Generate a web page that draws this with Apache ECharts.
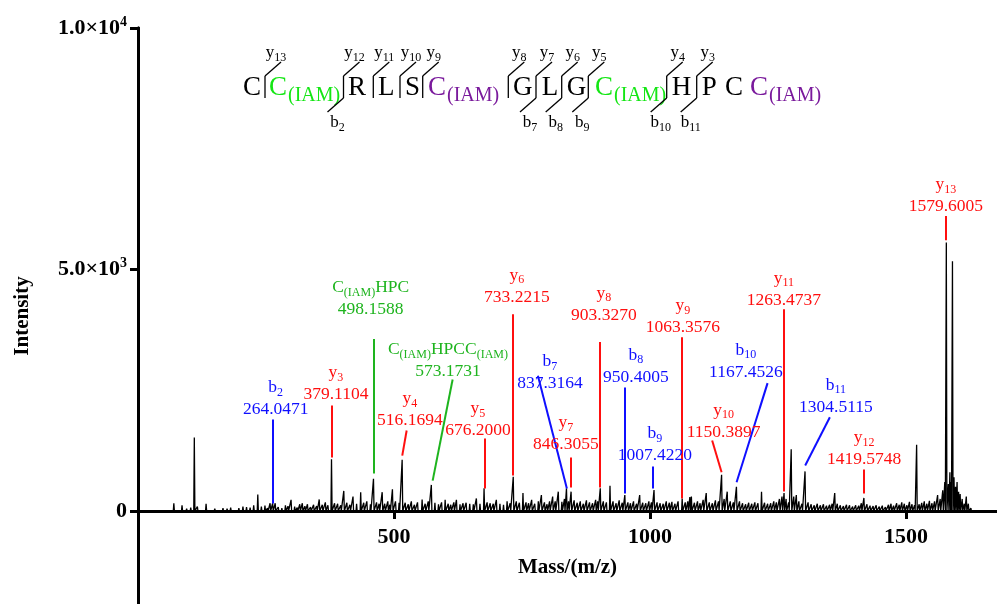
<!DOCTYPE html>
<html><head><meta charset="utf-8">
<script src="https://cdn.jsdelivr.net/npm/echarts@6.0.0/dist/echarts.min.js"></script>
<style>html,body{margin:0;padding:0;background:#fff}#c{width:997px;height:604px}</style>
</head><body><div id="c"></div>
<script>
// ---------- DATA ----------
// spectrum peaks: [m/z, intensity]
const spectrum = [
[62,40],[70,160],[78,40],[86,120],[95,50],[103,70],[110,1520],[116,90],[124,40],[133,150],[141,30],[150,50],[158,40],[166,60],[174,50],[181,70],[190,40],[197,60],[205,90],[212,80],[219,70],[226,120],[234,340],[241,90],[248,110],[253,60],[258,160],[263,160],[268,160],[274,80],[281,60],[288,120],[293,100],[299,230],[306,90],[311,70],[316,140],[321,160],[326,100],[331,140],[337,80],[343,130],[349,100],[354,240],[360,130],[366,180],[371,120],[378,1070],[384,160],[390,150],[396,120],[402,415],[408,170],[414,130],[420,300],[427,150],[435,390],[441,170],[447,200],[454,140],[460,665],[466,180],[471,150],[477,390],[482,150],[488,200],[492,130],[497,450],[503,200],[510,170],[516,1060],[522,170],[528,140],[534,200],[540,130],[546,180],[555,240],[561,150],[567,200],[573,540],[580,170],[587,140],[593,180],[600,230],[606,150],[611,130],[617,180],[622,230],[629,140],[635,160],[641,170],[648,150],[655,140],[661,260],[668,150],[676,470],[682,180],[688,160],[694,150],[700,230],[707,150],[714,130],[721,200],[727,160],[733,710],[739,200],[745,170],[752,370],[758,180],[763,160],[769,230],[775,150],[782,200],[788,330],[794,180],[799,140],[804,200],[810,300],[815,200],[821,400],[828,190],[833,250],[837,470],[841,200],[846,400],[852,220],[858,170],[864,200],[870,150],[876,220],[882,180],[888,160],[894,230],[898,200],[903,470],[909,200],[915,180],[922,520],[928,200],[934,160],[940,220],[946,170],[951,330],[957,180],[962,160],[968,200],[974,150],[980,330],[986,170],[992,160],[998,200],[1003,180],[1008,435],[1014,180],[1020,160],[1026,150],[1032,200],[1038,170],[1043,190],[1049,150],[1055,200],[1063,260],[1069,180],[1074,200],[1078,290],[1081,300],[1087,170],[1093,200],[1098,160],[1104,230],[1110,370],[1116,180],[1122,160],[1128,220],[1134,200],[1140,750],[1145,250],[1151,400],[1157,200],[1163,180],[1169,500],[1175,200],[1181,160],[1187,140],[1193,170],[1199,150],[1205,180],[1211,160],[1218,400],[1224,170],[1230,150],[1236,160],[1242,200],[1247,180],[1253,250],[1258,300],[1262,370],[1266,250],[1271,180],[1276,1280],[1281,300],[1286,330],[1291,200],[1297,150],[1303,820],[1309,180],[1315,140],[1321,120],[1327,150],[1333,120],[1339,140],[1345,110],[1351,130],[1356,150],[1361,370],[1366,150],[1372,120],[1378,100],[1384,130],[1390,120],[1396,90],[1402,120],[1408,110],[1413,160],[1418,270],[1424,140],[1430,110],[1436,100],[1442,120],[1448,90],[1454,110],[1460,80],[1466,130],[1471,150],[1476,110],[1482,160],[1487,130],[1492,180],[1497,150],[1502,120],[1507,190],[1512,140],[1517,120],[1521,1370],[1526,140],[1531,170],[1536,200],[1541,150],[1546,210],[1551,160],[1556,200],[1562,330],[1567,250],[1572,430],[1576,600],[1579,5560],[1583,560],[1586,800],[1588,600],[1591,5170],[1594,700],[1597,500],[1600,600],[1603,400],[1606,350],[1610,250],[1614,150],[1618,300],[1622,150],[1627,60],[1631,20]
];
// annotations
const annIon  = ['b2','y3','C(IAM)HPC','y4','C(IAM)HPCC(IAM)','y5','y6','b7','y7','y8','b8','b9','y9','y10','b10','y11','b11','y12','y13'];
const annMass = ['264.0471','379.1104','498.1588','516.1694','573.1731','676.2000','733.2215','837.3164','846.3055','903.3270','950.4005','1007.4220','1063.3576','1150.3897','1167.4526','1263.4737','1304.5115','1419.5748','1579.6005'];
const annType = ['b','y','g','y','g','y','y','b','y','y','b','b','y','y','b','y','b','y','y'];
// label anchor (m/z, intensity) of the mass text
const annLabelAt = [[269,2100],[386.7,2414],[454.5,4175],[531.2,1874],[605.5,2890],[664.1,1667],[740.2,4424],[804.7,2641],[835.9,1376],[910.1,4051],[972.6,2772],[1009.7,1148],[1064.3,3794],[1143.9,1631],[1187.5,2875],[1261.7,4362],[1363.3,2150],[1418.5,1059],[1578.1,6296]];
// leader line: top point, bottom point (m/z, intensity)
const annLineTop = [[263.1,1895],[378.3,2185],[461,3563],[524.8,1667],[614.6,2723],[676.4,1501],[733,4071],[781.2,2802],[845.7,1107],[902.9,3500],[951.2,2558],[1006.4,920],[1063,3595],[1121.6,1459],[1229.8,2647],[1261.7,4176],[1351.5,1942],[1418.5,858],[1578.1,6106]];
const annLineBot = [[263.1,153],[378.3,1107],[461,775],[516.2,1148],[575.6,629],[676.4,464],[733,734],[837.8,464],[845.7,485],[902.9,485],[951.2,361],[1006.4,464],[1063,257],[1140,802],[1169.3,595],[1261.7,402],[1303.3,941],[1418.5,361],[1578.1,5608]];
// axis ticks
const xTicks = [500,1000,1500];
const yTicks = [0,5000,10000];
const yTickLabels = {0:['0',''],5000:['5.0×10','3'],10000:['1.0×10','4']};
// peptide sequence
const residues = ['C','C','R','L','S','C','G','L','G','C','H','P','C','C'];
const residueMod = ['','(IAM)','','','','(IAM)','','','','(IAM)','','','','(IAM)'];
const residueKind = ['n','g','n','n','n','p','n','n','n','g','n','n','n','p'];
const siteY = ['13','12','11','10','9','8','7','6','5','4','3'];
const siteB = ['','2','','','','','7','8','9','10','11'];

// ---------- LAYOUT / STYLE ----------
const SERIF = "'Liberation Serif','Times New Roman',serif";
const COLORS = {b:'#0f0fff', y:'#ff0f0f', g:'#1eb41e'};
const SEQ_COLORS = {n:'#000000', g:'#14e614', p:'#7a1a9c'};
const residueLeft = [243,269,348,378,405,428,513,541.7,566.7,595,671.7,701.7,725,750];
const siteX = [265,343.5,373.3,400,422.7,508.3,536,561.7,588.3,666.7,696.7];

function ionRich(name){
  const m = name.match(/^([by])(\d+)$/);
  if (m) return '{i|'+m[1]+'}{s|'+m[2]+'}';
  return name.split(/(\(IAM\))/).filter(Boolean).map(t => t==='(IAM)' ? '{s|'+t+'}' : '{i|'+t+'}').join('');
}

const lineData = [];
spectrum.forEach(([mz,h]) => { lineData.push([mz-1.1,0],[mz,h],[mz+1.1,0]); });

const labelData = annIon.map((ion,i) => {
  const c = COLORS[annType[i]];
  return {
    value: annLabelAt[i],
    label: {
      show:true, position:'inside', offset:[0,-11], opacity:1, color:c,
      formatter: ionRich(ion)+'\n{m|'+annMass[i]+'}',
      rich: {
        i:{fontSize:17.5, fontFamily:SERIF, color:c, lineHeight:22, verticalAlign:'middle'},
        s:{fontSize:12, fontFamily:SERIF, color:c, lineHeight:22, verticalAlign:'bottom'},
        m:{fontSize:17.5, fontFamily:SERIF, color:c, lineHeight:22, verticalAlign:'middle'}
      }
    }
  };
});
const leaderData = annIon.map((ion,i) => ({
  coords:[annLineTop[i], annLineBot[i]],
  lineStyle:{color:COLORS[annType[i]], width:2, opacity:1}
}));

// sequence graphics
const graphics = [];
residues.forEach((r,i) => {
  const col = SEQ_COLORS[residueKind[i]];
  graphics.push({type:'text', x:residueLeft[i], y:88, style:{text:r, fill:col, fontSize:27, fontFamily:SERIF, align:'left', verticalAlign:'middle'}});
  if (residueMod[i]) graphics.push({type:'text', x:residueLeft[i]+19, y:95.5, style:{text:residueMod[i], fill:col, fontSize:20, fontFamily:SERIF, align:'left', verticalAlign:'middle'}});
});
const seqRich = {m:{fontSize:17, fontFamily:SERIF, fill:'#000', lineHeight:22, verticalAlign:'middle'}, s:{fontSize:12, fontFamily:SERIF, fill:'#000', lineHeight:22, verticalAlign:'bottom'}};
siteX.forEach((x,i) => {
  const st = {stroke:'#000', lineWidth:1.3};
  graphics.push({type:'line', shape:{x1:x,y1:76,x2:x,y2:98}, style:st});
  if (siteY[i]) {
    graphics.push({type:'line', shape:{x1:x,y1:76,x2:x+16,y2:62}, style:st});
    graphics.push({type:'text', x:x+11, y:52.5, style:{text:'{m|y}{s|'+siteY[i]+'}', rich:seqRich, fill:'#000', align:'center', verticalAlign:'middle'}});
  }
  if (siteB[i]) {
    graphics.push({type:'line', shape:{x1:x,y1:98,x2:x-16,y2:112}, style:st});
    graphics.push({type:'text', x:x-6, y:123, style:{text:'{m|b}{s|'+siteB[i]+'}', rich:seqRich, fill:'#000', align:'center', verticalAlign:'middle'}});
  }
});

const chart = echarts.init(document.getElementById('c'), null, {renderer:'canvas'});
chart.setOption({
  animation:false,
  backgroundColor:'#ffffff',
  grid:[
    {left:138, right:0, top:28, bottom:93, containLabel:false, outerBoundsMode:'none'},
    {left:138, right:0, top:28, bottom:0, containLabel:false, outerBoundsMode:'none'}
  ],
  xAxis:[{
    gridIndex:0, type:'value', min:0, max:1678, interval:500, position:'bottom',
    axisLine:{onZero:false, lineStyle:{color:'#000', width:3}},
    axisTick:{show:true, length:8, lineStyle:{color:'#000', width:3}, customValues:xTicks},
    axisLabel:{customValues:xTicks, formatter: v => String(v), color:'#000', fontSize:22, fontWeight:'bold', fontFamily:SERIF, margin:15},
    splitLine:{show:false},
    name:'Mass/(m/z)', nameLocation:'middle', nameGap:46, nameMoveOverlap:false,
    nameTextStyle:{color:'#000', fontSize:21, fontWeight:'bold', fontFamily:SERIF}
  },{
    gridIndex:1, type:'value', min:0, max:1, show:false
  }],
  yAxis:[{
    gridIndex:0, type:'value', min:0, max:10000, interval:5000,
    axisLine:{show:true, onZero:false, lineStyle:{color:'#000', width:3}},
    axisTick:{show:true, length:8, lineStyle:{color:'#000', width:3}, customValues:yTicks},
    axisLabel:{customValues:yTicks, margin:11,
      formatter: v => { const t = yTickLabels[v]; return t[1] ? '{n|'+t[0]+'}{p|'+t[1]+'}' : '{n|'+t[0]+'}'; },
      rich:{
        n:{color:'#000', fontSize:22, fontWeight:'bold', fontFamily:SERIF, lineHeight:26, verticalAlign:'middle'},
        p:{color:'#000', fontSize:14, fontWeight:'bold', fontFamily:SERIF, lineHeight:26, verticalAlign:'top'}
      }},
    splitLine:{show:false}
  },{
    gridIndex:1, type:'value', min:0, max:1,
    axisLine:{show:true, onZero:false, lineStyle:{color:'#000', width:3}},
    axisTick:{show:false}, axisLabel:{show:false}, splitLine:{show:false},
    name:'Intensity', nameLocation:'middle', nameGap:105, nameRotate:90, nameMoveOverlap:false,
    nameTextStyle:{color:'#000', fontSize:21, fontWeight:'bold', fontFamily:SERIF}
  }],
  graphic: graphics,
  series:[
    {type:'line', xAxisIndex:0, yAxisIndex:0, data:lineData, showSymbol:false, symbol:'none', lineStyle:{color:'#000', width:1.3}, z:2, silent:true},
    {type:'lines', xAxisIndex:0, yAxisIndex:0, coordinateSystem:'cartesian2d', data:leaderData, lineStyle:{opacity:1}, z:3, silent:true},
    {type:'scatter', xAxisIndex:0, yAxisIndex:0, data:labelData, symbolSize:1, itemStyle:{color:'rgba(0,0,0,0)', opacity:1}, z:4, silent:true}
  ]
});
</script></body></html>
